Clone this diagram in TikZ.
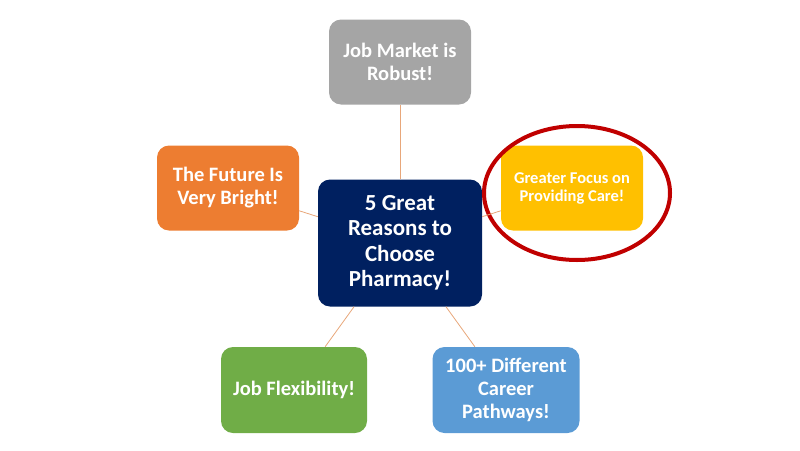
\documentclass[tikz,border=0pt]{standalone}
\usepackage{fontspec}
\setmainfont{Carlito}
\usepackage{xcolor}
\usetikzlibrary{shapes.geometric}

\definecolor{hubnavy}{HTML}{002060}
\definecolor{boxgray}{HTML}{A5A5A5}
\definecolor{boxorange}{HTML}{ED7D31}
\definecolor{boxyellow}{HTML}{FFC000}
\definecolor{boxgreen}{HTML}{70AD47}
\definecolor{boxblue}{HTML}{5B9BD5}
\definecolor{ringred}{HTML}{C00000}
\definecolor{spokeline}{HTML}{E8A77A}

\begin{document}
\begin{tikzpicture}[
  x=1pt, y=-1pt,
  reason/.style={rectangle, rounded corners=12pt, minimum width=142pt, minimum height=85pt,
                 align=center, text=white, inner sep=2pt,
                 font=\bfseries\fontsize{20.5}{23}\selectfont},
  hub/.style={reason, fill=hubnavy, minimum width=164pt, minimum height=127pt,
              font=\bfseries\fontsize{23}{25.5}\selectfont},
  spoke/.style={draw=spokeline, line width=0.8pt}
]
\useasboundingbox (0,0) rectangle (800,450);

% central node
\node[hub] (hub) at (400,243) {5 Great\\Reasons to\\Choose\\Pharmacy!};

% the five reasons
\node[reason, fill=boxgray]   (market) at (400,62)  {Job Market is\\Robust!};
\node[reason, fill=boxorange] (future) at (228,188) {The Future Is\\Very Bright!};
\node[reason, fill=boxyellow, font=\bfseries\fontsize{16.5}{18}\selectfont]
                              (care)   at (572,188) {Greater Focus on\\Providing Care!};
\node[reason, fill=boxgreen, minimum width=146pt, minimum height=86pt]
                              (flex)   at (294,390) {Job Flexibility!};
\node[reason, fill=boxblue, minimum width=147pt, minimum height=86pt]
                              (paths)  at (506,390) {100+ Different\\Career\\Pathways!};

% highlight ring
\node[ellipse, draw=ringred, line width=4pt, minimum width=186pt, minimum height=134pt]
  (ring) at (577,193) {};

% spokes
\foreach \n in {market,future,care,flex,paths}
  \draw[spoke] (hub) -- (\n);
\end{tikzpicture}
\end{document}
